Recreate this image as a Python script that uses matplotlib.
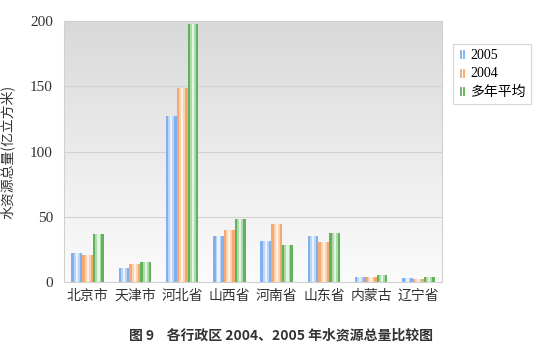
import numpy as np
import matplotlib.pyplot as plt
from matplotlib.colors import LinearSegmentedColormap
from matplotlib.lines import Line2D

plt.rcParams['font.family'] = ['Noto Sans CJK SC', 'DejaVu Sans']

# -------------------------------------
# Data
# -------------------------------------
regions = ["北京市", "天津市", "河北省", "山西省", "河南省", "山东省", "内蒙古", "辽宁省"]
series_names = ["2005", "2004", "多年平均"]
v2005 = [22.2, 11.0, 127.5, 35.5, 31.5, 35.5, 3.8, 3.3]
v2004 = [20.8, 13.5, 149.0, 39.5, 44.5, 30.5, 3.8, 2.2]
vavg = [36.5, 15.3, 197.5, 48.5, 28.5, 37.5, 5.6, 3.5]
yticks = [0, 50, 100, 150, 200]

colors = ["#7fb0f0", "#f7a86e", "#5fb35a"]
light = ["#e6f0ff", "#fff0e2", "#e4f6de"]

fig = plt.figure(figsize=(5.4, 3.55), dpi=100)
ax = fig.add_axes([0.1185, 0.2056, 0.70, 0.735])

# gradient background
cmap_bg = LinearSegmentedColormap.from_list("bg", ["#d9d9d9", "#ebebeb", "#fbfbfb"])
grad = np.linspace(0, 1, 256).reshape(-1, 1)
x = np.arange(len(regions))
ax.imshow(grad, cmap=cmap_bg, aspect="auto", extent=[-0.5, len(regions) - 0.5, 0, 200],
          origin="upper", zorder=0)

w = 0.23
for i, (vals, c, lc) in enumerate(zip([v2005, v2004, vavg], colors, light)):
    xs = x + (i - 1) * w
    ax.bar(xs, vals, width=w, color=c, zorder=2)
    ax.bar(xs, vals, width=w * 0.55, color=lc, alpha=0.6, zorder=3)
    ax.bar(xs, vals, width=w * 0.2, color="white", alpha=0.7, zorder=3)

ax.set_xlim(-0.5, len(regions) - 0.5)
ax.set_ylim(0, 200)
ax.set_yticks(yticks)
ax.set_yticklabels([str(t) for t in yticks], family="Liberation Serif", fontsize=11, color="#333333")
ax.set_xticks(x)
ax.set_xticklabels(regions, fontsize=10, color="#333333")
ax.tick_params(axis="y", length=0, pad=8)
ax.tick_params(axis="x", length=0, pad=5)
for t in [50, 100, 150]:
    ax.axhline(t, color="#d2d2d2", lw=0.8, zorder=1)
for sp in ax.spines.values():
    sp.set_color("#d0d0d0")
    sp.set_linewidth(0.8)

ax.set_ylabel("水资源总量(亿立方米)", fontsize=10, color="#333333")
ax.yaxis.set_label_coords(-0.13, 0.5)

handles = [Line2D([], [], ls="none", marker="$||$", markersize=6, color=c,
                  markeredgewidth=0.6) for c in colors]
leg = fig.legend(handles, series_names, loc="upper left", bbox_to_anchor=(0.838, 0.876),
                 frameon=True, handlelength=0.6, handletextpad=0.35,
                 borderpad=0.35, labelspacing=0.4, fancybox=False, borderaxespad=0,
                 prop={"family": ["Liberation Serif", "Noto Sans CJK SC"], "size": 10})
leg.get_frame().set_edgecolor("#cccccc")
leg.get_frame().set_linewidth(0.8)

fig.text(0.52, 0.055, "图 9    各行政区 2004、2005 年水资源总量比较图", ha="center", va="center",
         fontsize=10, fontweight="bold", color="#333333")

fig.savefig("out.png", dpi=100, facecolor="white")
